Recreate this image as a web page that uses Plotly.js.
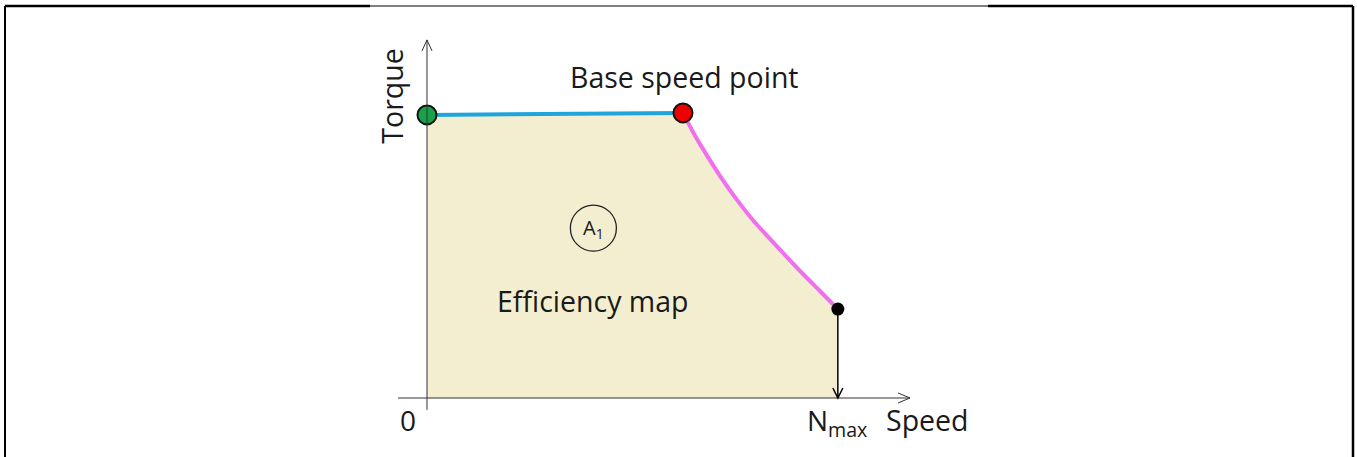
<!DOCTYPE html>
<html>
<head>
<meta charset="utf-8">
<script src="https://cdn.plot.ly/plotly-3.0.1.min.js"></script>
<style>
html,body{margin:0;padding:0;background:#fff;}
#chart{width:1357px;height:457px;}
</style>
</head>
<body>
<div id="chart"></div>
<script>
// Torque-speed envelope (relative units: speed / base speed, torque / rated torque)
const constTorqueSpeed = [0, 1.0];
const constTorqueValue = [1.0, 1.007];
const fieldWeakSpeed = [1.0, 1.039, 1.078, 1.145, 1.211, 1.273, 1.340, 1.406, 1.469, 1.535, 1.605];
const fieldWeakTorque = [1.007, 0.940, 0.880, 0.784, 0.700, 0.629, 0.562, 0.498, 0.438, 0.378, 0.314];
const startPoint = {speed: 0, torque: 1.0};
const basePoint = {speed: 1.0, torque: 1.007};
const maxPoint = {speed: 1.605, torque: 0.314};
const xLabels = ["0", "N<sub>max</sub>", "Speed"];
const yLabel = "Torque";

const fillX = [0].concat(constTorqueSpeed, fieldWeakSpeed, [maxPoint.speed, 0]);
const fillY = [0].concat(constTorqueValue, fieldWeakTorque, [0, 0]);

const F = "Open Sans, sans-serif";
const W = 1357, H = 457;
const px = v => v / W;
const py = v => 1 - v / H;

const traces = [
  {x: fillX, y: fillY, mode: "lines", fill: "toself", fillcolor: "#f3eecf",
   line: {width: 0}, hoverinfo: "skip"},
  {x: constTorqueSpeed, y: constTorqueValue, mode: "lines",
   line: {color: "#1ea5db", width: 4}},
  {x: fieldWeakSpeed, y: fieldWeakTorque, mode: "lines",
   line: {color: "#f26ef0", width: 4, shape: "spline", smoothing: 0.8}},
  {x: [startPoint.speed], y: [startPoint.torque], mode: "markers",
   marker: {color: "#17a24a", size: 19, line: {color: "#111", width: 2}}},
  {x: [basePoint.speed], y: [basePoint.torque], mode: "markers",
   marker: {color: "#ee0000", size: 19, line: {color: "#111", width: 2}}},
  {x: [maxPoint.speed], y: [maxPoint.torque], mode: "markers",
   marker: {color: "#000", size: 13}}
];

const shapes = [
  // y axis
  {type: "line", xref: "x", yref: "y", x0: 0, x1: 0, y0: -0.042, y1: 1.265,
   line: {color: "#333", width: 1}},
  {type: "path", xref: "x", yref: "y", xsizemode: "pixel", ysizemode: "pixel",
   xanchor: 0, yanchor: 1.265, path: "M -5,-11 L 0,0 L 5,-11",
   line: {color: "#333", width: 1}},
  // x axis
  {type: "line", xref: "x", yref: "y", x0: -0.113, x1: 1.887, y0: 0, y1: 0,
   line: {color: "#333", width: 1.2}},
  {type: "path", xref: "x", yref: "y", xsizemode: "pixel", ysizemode: "pixel",
   xanchor: 1.887, yanchor: 0, path: "M -12,5 L 0,0 L -12,-5",
   line: {color: "#333", width: 1}},
  // down arrow at Nmax
  {type: "line", xref: "x", yref: "y", x0: maxPoint.speed, x1: maxPoint.speed,
   y0: maxPoint.torque, y1: 0, line: {color: "#000", width: 1.5}},
  {type: "path", xref: "x", yref: "y", xsizemode: "pixel", ysizemode: "pixel",
   xanchor: maxPoint.speed, yanchor: 0, path: "M -5,10 L 0,0 L 5,10",
   line: {color: "#000", width: 1.5}},
  // A1 circle
  {type: "circle", xref: "x", yref: "y", xsizemode: "pixel", ysizemode: "pixel",
   xanchor: 0.65, yanchor: 0.60, x0: -23, x1: 23, y0: -23, y1: 23,
   line: {color: "#222", width: 1.3}},
  // frame
  {type: "line", xref: "paper", yref: "paper", x0: px(5), x1: px(370), y0: py(6), y1: py(6),
   line: {color: "#000", width: 2.5}},
  {type: "line", xref: "paper", yref: "paper", x0: px(370), x1: px(988), y0: py(6), y1: py(6),
   line: {color: "#000", width: 1}},
  {type: "line", xref: "paper", yref: "paper", x0: px(988), x1: px(1353), y0: py(6), y1: py(6),
   line: {color: "#000", width: 2.5}},
  {type: "line", xref: "paper", yref: "paper", x0: px(5), x1: px(5), y0: py(6), y1: 0,
   line: {color: "#000", width: 2}},
  {type: "line", xref: "paper", yref: "paper", x0: px(1353), x1: px(1353), y0: py(6), y1: 0,
   line: {color: "#000", width: 2.5}}
];

const ann = (x, y, text, size, extra) => Object.assign({
  x: x, y: y, xref: "x", yref: "y", text: text, showarrow: false,
  font: {family: F, size: size, color: "#1a1a1a"}
}, extra || {});

const annotations = [
  ann(1.005, 1.135, "Base speed point", 28.5),
  ann(0.65, 0.60, "A<sub>1</sub>", 20),
  ann(0.65, 0.343, "Efficiency map", 28.5),
  ann(-0.075, -0.078, xLabels[0], 28),
  ann(1.60, -0.085, xLabels[1], 28),
  ann(1.955, -0.078, xLabels[2], 28.5),
  ann(-0.14, 1.065, yLabel, 28.5, {textangle: -90})
];

const layout = {
  width: W, height: H,
  margin: {l: 0, r: 0, t: 0, b: 0},
  paper_bgcolor: "#fff", plot_bgcolor: "#fff",
  showlegend: false,
  xaxis: {range: [-1.668, 3.633], visible: false, fixedrange: true},
  yaxis: {range: [-0.2085, 1.406], visible: false, fixedrange: true},
  shapes: shapes,
  annotations: annotations
};

Plotly.newPlot("chart", traces, layout, {displayModeBar: false, staticPlot: true});
</script>
</body>
</html>
